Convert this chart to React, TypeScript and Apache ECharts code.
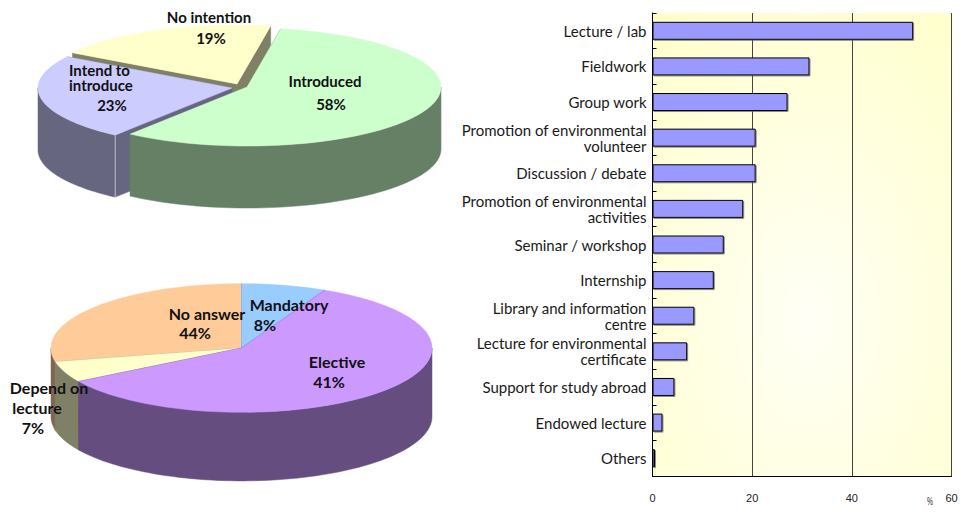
import React, { useEffect, useRef } from "react";
import * as echarts from "echarts";

// Bar chart
const activityLabels = [
  "Lecture / lab", "Fieldwork", "Group work", "Promotion of environmental\nvolunteer",
  "Discussion / debate", "Promotion of environmental\nactivities", "Seminar / workshop",
  "Internship", "Library and information\ncentre", "Lecture for environmental\ncertificate",
  "Support for study abroad", "Endowed lecture", "Others",
];
const activityValues = [52.3, 31.5, 27.1, 20.7, 20.7, 18.2, 14.3, 12.3, 8.4, 6.95, 4.4, 2.0, 0.5];
const axisTicks = { min: 0, max: 60, interval: 20 };

// Upper pie, clockwise from its first slice (wedge widths as drawn)
const upperShares = [57.5, 23.6, 18.9];
const upperTexts = ["No intention", "19%", "Intend to\nintroduce", "23%", "Introduced", "58%"];

// Lower pie, clockwise from twelve o'clock. The wedge widths are read from the
// drawn geometry; the printed percentages differ from them in the source picture.
const lowerShares = [7.2, 59.1, 5.3, 28.4];
const lowerTexts = ["Mandatory", "8%", "Elective", "41%", "Depend on", "lecture", "7%", "No answer", "44%"];

type PieSpec = {
  cx: number; cy: number; rx: number; ry: number; depth: number; start: number;
  tops: string[]; sides: string[]; offsets: number[][]; seams: boolean[]; ranks: number[];
};

const upperPie: PieSpec = {
  cx: 240, cy: 87, rx: 194, ry: 59, depth: 62, start: 10,
  tops: ["#CCFFCC", "#CCCCFF", "#FFFFCC"],
  sides: ["#668066", "#666680", "#808066"],
  offsets: [[7, 0], [-8, 1], [-3, -3]],
  seams: [false, true, false],
  ranks: [2, 1, 0],
};
const lowerPie: PieSpec = {
  cx: 241.5, cy: 348, rx: 190.5, ry: 64.3, depth: 68.6, start: 0,
  tops: ["#99CCFF", "#CC99FF", "#FFFFCC", "#FFCC99"],
  sides: ["#4D6680", "#664D80", "#808066", "#806650"],
  offsets: [[0, 0], [0, 0], [0, 0], [0, 0]],
  seams: [false, false, false, false],
  ranks: [1, 3, 2, 0],
};

function pieSeries(spec: PieSpec, shares: number[]) {
  const total = shares.reduce((a, b) => a + b, 0);
  const starts: number[] = [];
  shares.reduce((acc, s, i) => {
    starts[i] = acc;
    return acc + (s / total) * 360;
  }, spec.start);
  return {
    type: "custom",
    coordinateSystem: "none",
    silent: true,
    z: 3,
    data: shares.map((s) => [s]),
    renderItem(params: any, api: any) {
      const i = params.dataIndex;
      const a0 = starts[i];
      const a1 = a0 + (api.value(0) / total) * 360;
      const cx = spec.cx + spec.offsets[i][0];
      const cy = spec.cy + spec.offsets[i][1];
      const z2 = spec.ranks[i] * 10;
      const pt = (deg: number): number[] => {
        const t = (deg * Math.PI) / 180;
        return [cx + spec.rx * Math.sin(t), cy - spec.ry * Math.cos(t)];
      };
      const arc = (from: number, to: number) => {
        const out: number[][] = [];
        const n = Math.max(2, Math.ceil((to - from) / 2));
        for (let k = 0; k <= n; k++) out.push(pt(from + ((to - from) * k) / n));
        return out;
      };
      const side = spec.sides[i];
      const down = (p: number[]) => [p[0], p[1] + spec.depth];
      const children: any[] = [];
      const poly = (points: number[][], fill: string, level: number) =>
        children.push({
          type: "polygon",
          z2: z2 + level,
          shape: { points },
          style: { fill, stroke: fill, lineWidth: 0.5 },
        });
      for (const edge of [a0, a1]) {
        const e = pt(edge);
        poly([[cx, cy], e, down(e), [cx, cy + spec.depth]], side, 0);
      }
      // front half of the rim, for either turn of the circle
      for (const shift of [0, 360]) {
        const from = Math.max(a0, 90 + shift);
        const to = Math.min(a1, 270 + shift);
        if (to > from) {
          const rim = arc(from, to);
          poly([...rim, ...rim.map(down).reverse()], side, 1);
        }
      }
      if (spec.seams[i]) {
        const e = pt(a0);
        children.push({
          type: "line",
          z2: z2 + 2,
          shape: { x1: e[0], y1: e[1], x2: e[0], y2: e[1] + spec.depth },
          style: { stroke: "#BDBDC8", lineWidth: 1 },
        });
      }
      poly([[cx, cy], ...arc(a0, a1)], spec.tops[i], 3);
      return { type: "group", children };
    },
  };
}

// Where each printed text goes, in the order of upperTexts and lowerTexts
const upperPlaces = [[209, 17, "center"], [211, 38, "center"], [69, 77.5, "left"], [112, 105, "center"], [325, 81, "center"], [331, 104, "center"]];
const lowerPlaces = [[289, 304, "center"], [265, 324, "center"], [337, 361, "center"], [329, 381, "center"], [49, 387, "center"], [37, 407, "center"], [33, 427, "center"], [207, 313, "center"], [195, 332, "center"]];

function textGraphics(texts: string[], places: any[], fontSize: number) {
  return texts.map((text, i) => ({
    type: "text",
    z: 10,
    x: places[i][0],
    y: places[i][1],
    style: {
      fontFamily: "Lato",
      fontWeight: "bold",
      fontSize,
      lineHeight: 15,
      fill: "#111",
      text,
      textAlign: places[i][2],
      textVerticalAlign: "middle",
    },
  }));
}

export default function App() {
  const ref = useRef<HTMLDivElement>(null);
  useEffect(() => {
    const chart = echarts.init(ref.current!, undefined, { renderer: "svg" });
    chart.setOption({
      animation: false,
      backgroundColor: "#FFFFFF",
      grid: {
        left: 652.5,
        right: 9.5,
        top: 13,
        bottom: 36,
        show: true,
        borderWidth: 0,
        backgroundColor: new echarts.graphic.RadialGradient(0.52, 0.66, 0.8, [
          { offset: 0, color: "#FFFFF6" },
          { offset: 1, color: "#FFFFCC" },
        ]),
      },
      xAxis: {
        type: "value",
        min: axisTicks.min,
        max: axisTicks.max,
        interval: axisTicks.interval,
        axisLine: { show: true, lineStyle: { color: "#000", width: 1 } },
        axisTick: { show: false },
        axisLabel: { margin: 16, fontFamily: "Liberation Sans", fontSize: 11, color: "#222" },
        splitLine: { show: true, lineStyle: { color: "#444", width: 1 } },
      },
      yAxis: {
        type: "category",
        inverse: true,
        data: activityLabels,
        axisLine: { show: true, lineStyle: { color: "#000", width: 1 } },
        axisTick: { show: true, inside: true, length: 4, lineStyle: { color: "#000" } },
        axisLabel: { margin: 6, fontFamily: "Lato", fontSize: 15, lineHeight: 16, color: "#1a1a1a" },
        splitLine: { show: false },
      },
      series: [
        {
          type: "bar",
          data: activityValues,
          barWidth: 18,
          z: 4,
          itemStyle: {
            color: "#9999FF",
            borderColor: "#000",
            borderWidth: 1,
            shadowColor: "rgba(90,90,90,0.7)",
            shadowBlur: 0,
            shadowOffsetX: 1,
            shadowOffsetY: 1,
          },
        },
        pieSeries(upperPie, upperShares),
        pieSeries(lowerPie, lowerShares),
      ],
      graphic: [
        ...textGraphics(upperTexts, upperPlaces, 15),
        ...textGraphics(lowerTexts, lowerPlaces, 16),
        {
          type: "text",
          z: 10,
          x: 930,
          y: 501,
          scaleX: 0.6,
          style: { text: "%", fontFamily: "Liberation Sans", fontSize: 11, fill: "#222", textAlign: "center", textVerticalAlign: "middle" },
        },
      ],
    });
    return () => chart.dispose();
  }, []);
  return <div ref={ref} style={{ position: "fixed", left: 0, top: 0, width: 961, height: 512 }} />;
}
